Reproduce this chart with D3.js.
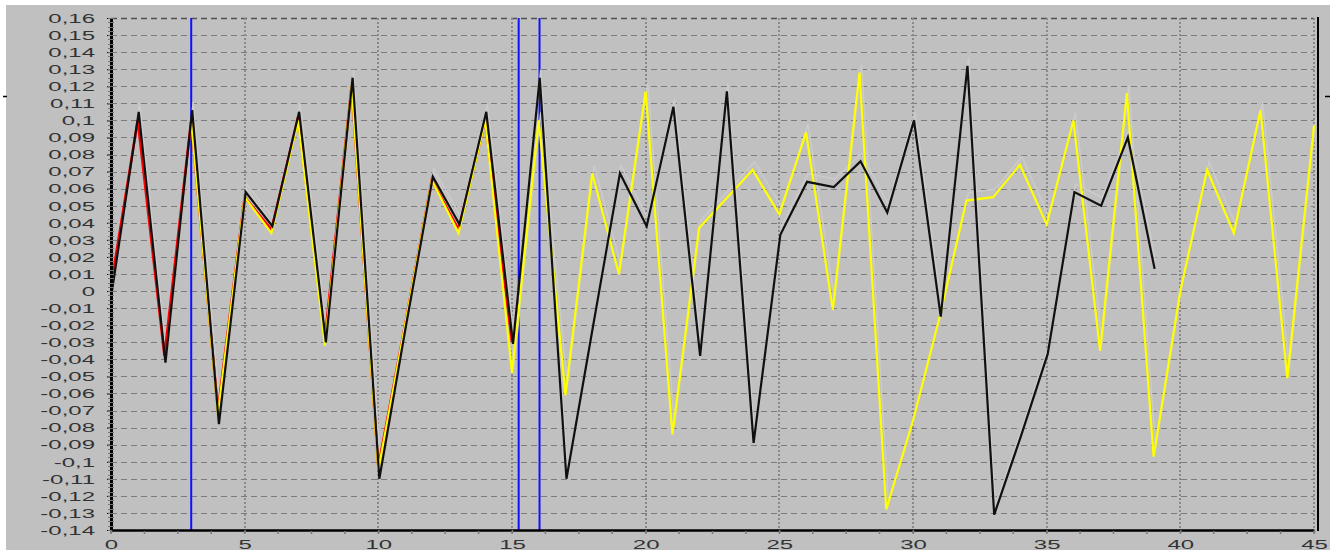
<!DOCTYPE html>
<html>
<head>
<meta charset="utf-8">
<script src="https://cdn.jsdelivr.net/npm/d3@7"></script>
<style>
  html, body { margin: 0; padding: 0; background: #ffffff; }
  svg { display: block; }
  text { font-family: "Liberation Sans", Arial, sans-serif; }
</style>
</head>
<body>
<svg id="chart" width="1330" height="550"></svg>
<script>
// ---- data ----
const blackX = d3.range(0, 40);
const blackY = [0.000, 0.105, -0.042, 0.106, -0.078, 0.058, 0.038, 0.105, -0.030, 0.125,
                -0.110, -0.020, 0.067, 0.039, 0.105, -0.031, 0.125, -0.110, -0.020, 0.069,
                0.038, 0.108, -0.038, 0.117, -0.089, 0.033, 0.064, 0.061, 0.076, 0.046,
                0.100, -0.015, 0.132, -0.131, -0.085, -0.037, 0.058, 0.050, 0.090, 0.013];

const redX = d3.range(0, 16);
const redY = [0.003, 0.100, -0.038, 0.100, -0.070, 0.055, 0.036, 0.102, -0.028, 0.120,
              -0.103, -0.020, 0.065, 0.036, 0.100, -0.030];

const yellowX = d3.range(3, 46);
const yellowY = [0.100, -0.072, 0.055, 0.034, 0.100, -0.032, 0.120, -0.105, -0.020, 0.065,
                 0.034, 0.100, -0.048, 0.100, -0.061, 0.069, 0.010, 0.117, -0.084, 0.037,
                 0.054, 0.071, 0.045, 0.093, -0.011, 0.128, -0.128, -0.076, -0.015, 0.053,
                 0.055, 0.074, 0.039, 0.100, -0.035, 0.116, -0.097, 0.000, 0.071, 0.034,
                 0.106, -0.051, 0.097];

const markerX = [3, 15.25, 16.03];

const yTicks = d3.range(16, -15, -1).map(v => v / 100);
const xTicks = [0, 5, 10, 15, 20, 25, 30, 35, 40, 45];
const xMinorTicks = d3.range(0, 45.01, 1.25);
const yMinorTicks = d3.range(-140, 161, 2.5).map(v => v / 1000);

const fmtY = v => {
  if (Math.abs(v) < 1e-9) return "0";
  return String(+v.toFixed(2)).replace(".", ",");
};

// ---- layout ----
const svg = d3.select("#chart");
const x = d3.scaleLinear().domain([0, 45]).range([111, 1314]);
const y = d3.scaleLinear().domain([-0.14, 0.16]).range([530, 18]);

// backgrounds
svg.append("rect").attr("x", 0).attr("y", 0).attr("width", 1330).attr("height", 550).attr("fill", "#ffffff");
svg.append("rect").attr("x", 6).attr("y", 5).attr("width", 1324).attr("height", 545).attr("fill", "#c0c0c0");

// small stray marks
svg.append("line").attr("x1", 3).attr("x2", 7).attr("y1", 96.5).attr("y2", 96.5).attr("stroke", "#000").attr("stroke-width", 1.5);
svg.append("line").attr("x1", 1325).attr("x2", 1330).attr("y1", 96.5).attr("y2", 96.5).attr("stroke", "#000").attr("stroke-width", 1.5);

// horizontal dashed grid
svg.append("g").selectAll("line").data(yTicks).join("line")
  .attr("x1", x(0)).attr("x2", x(45))
  .attr("y1", d => Math.round(y(d)) + 0.5).attr("y2", d => Math.round(y(d)) + 0.5)
  .attr("stroke", d => d === 0.16 ? "#505050" : "#7c7c7c")
  .attr("stroke-width", d => d === 0.16 ? 1.5 : 1)
  .attr("stroke-dasharray", "6,4");

// vertical dotted grid
svg.append("g").selectAll("line").data(xTicks.filter(d => d > 0)).join("line")
  .attr("x1", d => Math.round(x(d))).attr("x2", d => Math.round(x(d)))
  .attr("y1", y(0.16)).attr("y2", y(-0.14))
  .attr("stroke", "#8a8a8a").attr("stroke-width", 2)
  .attr("stroke-dasharray", "2,2");

// blue marker lines
svg.append("g").selectAll("line").data(markerX).join("line")
  .attr("x1", d => x(d)).attr("x2", d => x(d))
  .attr("y1", y(0.16)).attr("y2", y(-0.14))
  .attr("stroke", "#1010ff").attr("stroke-width", 2);

// series
const line = (xs, ys) => d3.line().x((d, i) => x(xs[i])).y(d => y(d))(ys);

const shadow = svg.append("g").attr("transform", "translate(2,-8)").attr("fill", "none")
  .attr("stroke", "#cbcbcb").attr("stroke-width", 1.5);
shadow.append("path").attr("d", line(blackX, blackY));
shadow.append("path").attr("d", line(yellowX, yellowY));

const series = svg.append("g").attr("fill", "none").attr("stroke-linejoin", "miter");
series.append("path").attr("d", line(redX, redY)).attr("stroke", "#ff0000").attr("stroke-width", 2.6);
series.append("path").attr("d", line(yellowX, yellowY)).attr("stroke", "#ffff00").attr("stroke-width", 2.2);
series.append("path").attr("d", line(blackX, blackY)).attr("stroke", "#101010").attr("stroke-width", 2.2)
  .attr("transform", "translate(1,0)");

// right border
svg.append("line").attr("x1", 1318).attr("x2", 1318).attr("y1", 17).attr("y2", 531)
  .attr("stroke", "#000").attr("stroke-width", 2);

// y axis
const yAxis = svg.append("g").attr("transform", "translate(111,0)")
  .call(d3.axisLeft(y).tickValues(yTicks).tickFormat(fmtY).tickSize(4).tickSizeOuter(0));
yAxis.select(".domain").attr("stroke", "#000").attr("stroke-width", 3);
yAxis.selectAll(".tick line").attr("stroke", "#000");
yAxis.selectAll(".tick text")
  .attr("x", -8).attr("dy", "0.36em")
  .attr("transform", "scale(2,1)")
  .attr("fill", "#333").attr("font-size", 12);

// y minor ticks
svg.append("g").selectAll("line").data(yMinorTicks).join("line")
  .attr("x1", 108).attr("x2", 114)
  .attr("y1", d => Math.round(y(d)) + 0.5).attr("y2", d => Math.round(y(d)) + 0.5)
  .attr("stroke", "#777").attr("stroke-width", 1);

// x axis
const xAxis = svg.append("g").attr("transform", "translate(0,530)")
  .call(d3.axisBottom(x).tickValues(xTicks).tickFormat(d3.format("d")).tickSize(3).tickSizeOuter(0));
xAxis.select(".domain").attr("stroke", "#000").attr("stroke-width", 2.5);
xAxis.selectAll(".tick line").attr("stroke", "#777").attr("stroke-width", 1.5);
xAxis.selectAll(".tick text")
  .attr("x", 0)
  .attr("y", 10).attr("dy", "0.71em")
  .attr("transform", "scale(2,1)")
  .attr("fill", "#333").attr("font-size", 12);

// x minor ticks
svg.append("g").selectAll("line").data(xMinorTicks).join("line")
  .attr("x1", d => x(d)).attr("x2", d => x(d))
  .attr("y1", 531).attr("y2", 534)
  .attr("stroke", "#777").attr("stroke-width", 1.5);
</script>
</body>
</html>
